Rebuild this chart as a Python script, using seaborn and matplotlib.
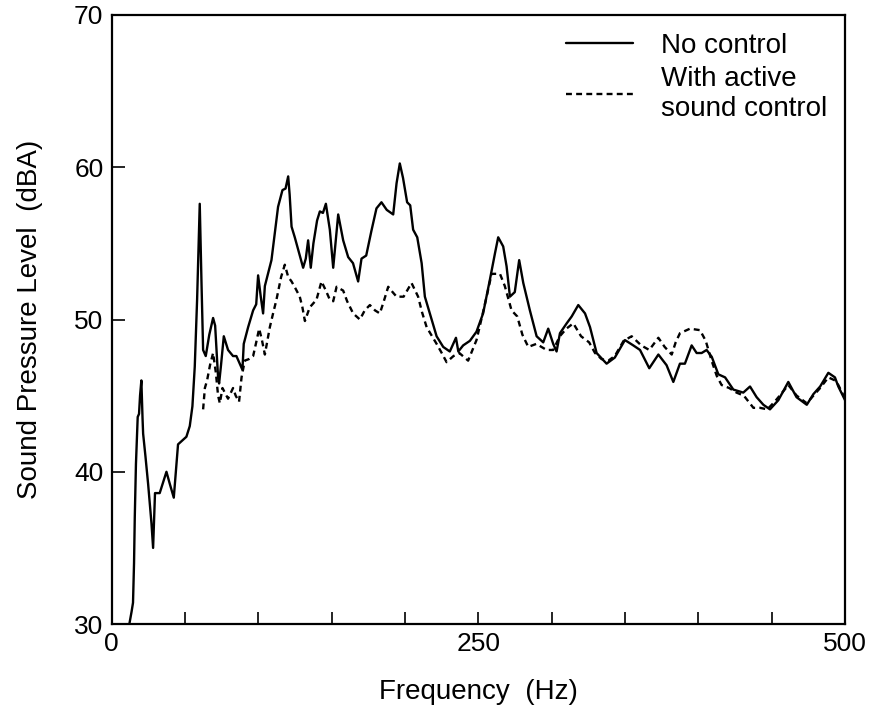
import numpy as np
import pandas as pd
import matplotlib
matplotlib.use("Agg")
import matplotlib.pyplot as plt
import seaborn as sns

freq_no_control = [12.0, 13.5, 14.5, 15.2, 15.7, 16.5, 17.7, 18.6, 19.3, 20.2, 21.0, 21.4, 23.0, 24.8, 27.1,
    28.2, 28.9, 29.5, 32.7, 35.0, 37.3, 39.6, 42.3, 45.2, 47.5, 50.9, 53.2, 55.0, 56.6, 58.2, 60.0, 61.2,
    62.3, 64.1, 66.5, 69.1, 70.5, 72.5, 73.2, 74.5, 76.4, 79.3, 82.7, 85.0, 87.3, 89.1, 90.0, 93.0, 96.4,
    98.5, 99.8, 101.6, 103.2, 104.4, 106.5, 108.9, 111.2, 113.4, 116.4, 118.5, 120.3, 121.3, 122.6, 124.8,
    127.1, 130.5, 132.3, 133.9, 135.7, 137.5, 140.0, 141.9, 144.0, 146.0, 148.7, 151.0, 154.4, 157.8, 161.2,
    164.5, 168.0, 170.3, 173.5, 177.0, 180.5, 183.9, 187.5, 191.9, 194.2, 196.4, 198.6, 201.4, 203.5, 205.5,
    208.3, 211.3, 213.5, 216.9, 221.5, 226.0, 230.5, 234.7, 236.3, 239.6, 244.2, 248.7, 253.2, 257.8, 261.3,
    263.5, 266.9, 269.2, 271.5, 274.8, 277.8, 280.6, 285.1, 289.7, 294.2, 297.6, 301.0, 303.3, 305.6, 310.2,
    313.6, 318.1, 322.7, 326.1, 330.6, 337.4, 343.0, 349.9, 355.6, 360.2, 366.5, 372.7, 378.3, 382.9, 387.4,
    390.8, 395.4, 398.8, 402.2, 405.6, 409.1, 413.6, 418.2, 423.8, 430.6, 435.2, 439.7, 444.3, 448.8, 454.5,
    461.3, 466.9, 473.9, 478.4, 483.0, 488.6, 493.1, 495.4, 500.0]
level_no_control = [30.0, 30.8, 31.4, 34.0, 37.0, 40.5, 43.6, 43.8, 45.0, 46.0, 43.5, 42.5, 41.0, 39.2, 36.6,
    35.0, 37.05, 38.6, 38.6, 39.3, 40.0, 39.2, 38.3, 41.8, 42.0, 42.3, 43.0, 44.3, 46.9, 51.3, 57.6, 52.4,
    48.0, 47.6, 49.0, 50.1, 49.6, 46.2, 45.8, 47.0, 48.9, 48.0, 47.6, 47.6, 47.1, 46.7, 48.4, 49.5, 50.6,
    51.0, 52.9, 51.5, 50.4, 52.2, 53.0, 53.9, 55.7, 57.4, 58.5, 58.6, 59.4, 58.2, 56.1, 55.4,
    54.6, 53.4, 54.0, 55.2, 53.4, 55.0, 56.5, 57.1, 57.0, 57.6, 55.9, 53.4, 56.9, 55.2, 54.1,
    53.7, 52.5, 54.0, 54.2, 55.8, 57.3, 57.7, 57.2, 56.9, 58.95, 60.25, 59.3, 57.7, 57.5, 55.9,
    55.4, 53.7, 51.5, 50.4, 48.9, 48.2, 47.9, 48.8, 47.9, 48.3, 48.6, 49.2, 50.4, 52.6, 54.35,
    55.4, 54.8, 53.5, 51.5, 51.8, 53.9, 52.4, 50.6, 48.9, 48.5, 49.4, 48.4, 47.9, 49.1, 49.75,
    50.2, 50.95, 50.4, 49.5, 47.8, 47.1, 47.5, 48.65, 48.3, 48.0, 46.8, 47.7, 47.0, 45.9, 47.1,
    47.1, 48.3, 47.8, 47.8, 48.0, 47.55, 46.4, 46.2, 45.4, 45.2, 45.6, 44.9, 44.4, 44.1, 44.7,
    45.9, 44.9, 44.4, 45.1, 45.6, 46.5, 46.2, 45.6, 44.7]

freq_active = [62.3, 63.5, 65.0, 67.0, 69.1, 71.0, 72.5, 73.7, 75.5, 77.1, 79.3, 82.7, 84.5, 86.8, 88.5,
    90.7, 93.5, 96.4, 98.5, 100.5, 102.3, 104.4, 107.8, 110.0, 112.3, 115.5, 118.0, 120.3, 122.6, 125.5,
    128.2, 130.0, 131.7, 135.0, 139.6, 143.0, 146.0, 148.7, 151.0, 153.3, 157.8, 160.5, 164.6, 169.2, 172.5,
    176.0, 179.5, 182.8, 185.5, 188.5, 191.5, 194.2, 199.0, 204.4, 208.9, 211.5, 214.7, 221.5, 225.0, 228.3,
    233.0, 237.0, 243.0, 248.7, 252.0, 255.6, 259.0, 264.7, 268.0, 272.6, 276.5, 280.0, 284.0, 289.5, 296.5,
    301.0, 305.5, 310.0, 314.7, 320.0, 325.5, 329.5, 334.0, 338.6, 343.0, 349.0, 354.5, 361.0, 366.5, 372.7,
    377.0, 381.8, 384.5, 387.4, 394.3, 401.1, 405.0, 409.0, 412.5, 415.8, 421.0, 426.0, 431.0, 437.5, 442.0,
    447.0, 452.0, 458.0, 461.3, 467.0, 473.9, 478.4, 483.0, 488.6, 493.1, 495.4, 500.0]
level_active = [44.1, 45.5, 46.0, 47.0, 47.8, 46.5, 45.0, 44.5, 45.5, 45.2, 44.8, 45.5, 45.0, 44.6, 46.2,
    47.3, 47.4, 47.6, 48.5, 49.4, 48.7, 47.7, 49.5, 50.4, 51.3, 52.8, 53.6, 52.8, 52.5, 52.0,
    51.5, 50.8, 49.9, 50.8, 51.3, 52.5, 51.9, 51.3, 51.2, 52.15, 51.9, 51.2, 50.4, 50.0, 50.6,
    50.95, 50.6, 50.4, 51.2, 52.15, 51.8, 51.5, 51.5, 52.4, 51.5, 50.5, 49.5, 48.4, 47.8, 47.2,
    47.6, 47.8, 47.3, 48.65, 50.0, 51.5, 53.0, 53.0, 52.2, 50.6, 50.2, 49.0, 48.2, 48.4, 48.0,
    48.0, 48.9, 49.4, 49.75, 48.9, 48.5, 47.8, 47.4, 47.3, 47.6, 48.6, 48.9, 48.3, 48.0, 48.8,
    48.2, 47.7, 48.5, 49.1, 49.4, 49.3, 48.6, 47.3, 46.3, 45.7, 45.5, 45.2, 45.0, 44.2, 44.2,
    44.1, 44.6, 45.3, 45.7, 45.0, 44.5, 45.0, 45.5, 46.2, 46.0, 45.7, 44.8]

series_names = ["No control", "With active\nsound control"]
x_ticks = [0, 50, 100, 150, 200, 250, 300, 350, 400, 450, 500]
x_tick_labels = ["0", "", "", "", "", "250", "", "", "", "", "500"]
y_ticks = [30, 40, 50, 60, 70]

df = pd.concat([
    pd.DataFrame({"f": freq_no_control, "L": level_no_control, "s": series_names[0]}),
    pd.DataFrame({"f": freq_active, "L": level_active, "s": series_names[1]}),
])

sns.set_style("ticks")
plt.rcParams["font.family"] = ["Liberation Sans", "DejaVu Sans"]
plt.rcParams["text.color"] = "black"
plt.rcParams["axes.labelcolor"] = "black"
plt.rcParams["xtick.color"] = "black"
plt.rcParams["ytick.color"] = "black"

fig = plt.figure(figsize=(8.73, 7.14), dpi=100)
ax = fig.add_axes([0.128, 0.126, 0.84, 0.853])
sns.lineplot(data=df, x="f", y="L", hue="s", style="s", palette=["black", "black"],
             dashes={series_names[0]: "", series_names[1]: (2.5, 1.8)},
             sort=False, estimator=None, linewidth=1.7, ax=ax)

ax.set_xlim(0, 500)
ax.set_ylim(30, 70)
ax.set_xticks(x_ticks)
ax.set_xticklabels(x_tick_labels)
ax.set_yticks(y_ticks)
ax.tick_params(direction="in", length=9, width=1.2, labelsize=19, pad=6,
               top=False, right=False, colors="black")
for sp in ax.spines.values():
    sp.set_visible(True)
    sp.set_linewidth(1.6)
    sp.set_color("black")

ax.set_xlabel("Frequency  (Hz)", fontsize=20, labelpad=16, color="black")
ax.set_ylabel("Sound Pressure Level  (dBA)", fontsize=20, labelpad=22, color="black")

leg = ax.legend(loc="upper right", frameon=False, fontsize=20, handlelength=2.4,
                handletextpad=1.0, labelspacing=0.25, borderaxespad=0.25)
for t in leg.get_texts():
    t.set_color("black")
for h in leg.get_lines():
    h.set_linewidth(1.7)

fig.savefig("out.png", dpi=100, facecolor="white")
